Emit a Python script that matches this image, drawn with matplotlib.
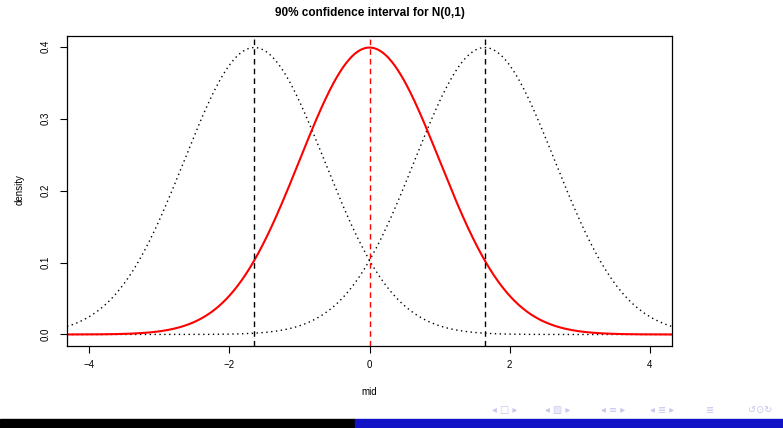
import numpy as np
import matplotlib.pyplot as plt
import matplotlib.patches as mpatches

plt.rcParams['font.family'] = ['Liberation Sans', 'DejaVu Sans']

# means of the three normal curves (sd = 1)
centre = 0.0
z90 = 1.645
side_means = [-z90, z90]
sd = 1.0
x_min, x_max = -4.32, 4.32

x_ticks = [-4, -2, 0, 2, 4]
y_ticks = [0.0, 0.1, 0.2, 0.3, 0.4]


def dnorm(x, mu, s):
    return np.exp(-0.5 * ((x - mu) / s) ** 2) / (s * np.sqrt(2 * np.pi))


W, H = 783, 428
fig = plt.figure(figsize=(W / 100, H / 100), dpi=100)
ax = fig.add_axes([67 / W, 1 - 346 / H, (672 - 67) / W, (346 - 36) / H])

xs = np.linspace(x_min, x_max, 600)
for m in side_means:
    ax.plot(xs, dnorm(xs, m, sd), color='black', lw=1.0, ls=(0, (1, 2.5)))
ax.plot(xs, dnorm(xs, centre, sd), color='red', lw=1.5)

for m in side_means:
    ax.axvline(m, color='black', lw=1.0, ls=(0, (4, 3)))
ax.axvline(centre, color='red', lw=1.0, ls=(0, (4, 3)))

ax.set_xlim(x_min, x_max)
ax.set_ylim(-0.016, 0.415)
ax.set_xticks(x_ticks)
ax.set_xticklabels(['\u22124', '\u22122', '0', '2', '4'])
ax.set_yticks(y_ticks)
ax.set_yticklabels([f'{v:.1f}' for v in y_ticks], rotation=90, va='center')
ax.tick_params(axis='both', direction='out', length=5, width=0.8, labelsize=7)
ax.tick_params(axis='x', pad=5)
ax.tick_params(axis='y', pad=7)
for s in ax.spines.values():
    s.set_linewidth(0.9)

ax.set_xlabel('mid', fontsize=7, labelpad=12)
fig.text(20 / W, 1 - 190 / H, 'density', rotation=90, fontsize=7,
         ha='center', va='center')
fig.text(370 / W, 1 - 13 / H, '90% confidence interval for N(0,1)',
         fontsize=8.5, fontweight='bold', ha='center', va='center')

# slide footer bar
fig.patches.append(mpatches.Rectangle((0, 0), 355 / W, 9 / H, transform=fig.transFigure,
                                      color='black', zorder=5))
fig.patches.append(mpatches.Rectangle((355 / W, 0), 1 - 355 / W, 9 / H,
                                      transform=fig.transFigure, color='#1212c6', zorder=5))

# navigation symbols
nav = [(505, '\u25c2 \u25a1 \u25b8'), (558, '\u25c2 \u25a7 \u25b8'),
       (613, '\u25c2 \u2261 \u25b8'), (662, '\u25c2 \u2263 \u25b8'),
       (710, '\u2263'), (760, '\u21ba\u2299\u21bb')]
for px, sym in nav:
    fig.text(px / W, 1 - 410 / H, sym, fontsize=7, color='#c6c6ee',
             ha='center', va='center', family=['DejaVu Sans'])

fig.savefig('out.png', dpi=100)
